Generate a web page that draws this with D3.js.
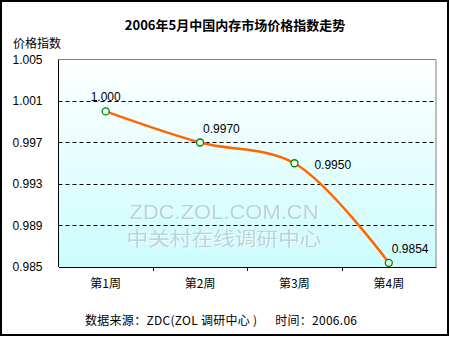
<!DOCTYPE html>
<html>
<head>
<meta charset="utf-8">
<script src="https://cdn.jsdelivr.net/npm/d3@7"></script>
<style>
  html, body { margin: 0; padding: 0; background: #fff; }
  svg { display: block; }
  text { font-family: "Liberation Sans", Arial, "Noto Sans CJK SC", sans-serif; }
</style>
</head>
<body>
<svg id="chart" width="450" height="337"></svg>
<script>
// Weekly memory market price index, May 2006
const weeks = ["第1周", "第2周", "第3周", "第4周"];
const indexValues = [1.000, 0.9970, 0.9950, 0.9854];
const valueLabels = ["1.000", "0.9970", "0.9950", "0.9854"];
const yTicks = [0.985, 0.989, 0.993, 0.997, 1.001, 1.005];
const yTickLabels = ["0.985", "0.989", "0.993", "0.997", "1.001", "1.005"];

const title = "2006年5月中国内存市场价格指数走势";
const yTitle = "价格指数";
const footer = "数据来源：ZDC(ZOL 调研中心 )      时间：2006.06";
const watermark1 = "ZDC.ZOL.COM.CN";
const watermark2 = "中关村在线调研中心";

const W = 450, H = 337;
const plot = { left: 58.5, right: 436, top: 59.5, bottom: 267 };

const svg = d3.select("#chart");

// outer frame
svg.append("rect")
  .attr("x", 1).attr("y", 1).attr("width", W - 3).attr("height", H - 3)
  .attr("fill", "#fff").attr("stroke", "#000").attr("stroke-width", 2);

const defs = svg.append("defs");
// plot background gradient
const grad = defs.append("linearGradient").attr("id", "bg")
  .attr("x1", 0).attr("y1", 0).attr("x2", 0).attr("y2", 1);
grad.append("stop").attr("offset", "0%").attr("stop-color", "#ffffff");
grad.append("stop").attr("offset", "100%").attr("stop-color", "#ccfcfd");

// emboss effect for the watermark
const emb = defs.append("filter").attr("id", "emboss")
  .attr("x", "-5%").attr("y", "-20%").attr("width", "110%").attr("height", "140%");
emb.append("feDropShadow").attr("dx", 1).attr("dy", 1)
  .attr("stdDeviation", 0).attr("flood-color", "#f6ffff").attr("flood-opacity", 1);

const x = d3.scaleBand().domain(weeks).range([plot.left, plot.right]);
const y = d3.scaleLinear().domain([0.985, 1.005]).range([plot.bottom, plot.top]);

svg.append("rect")
  .attr("x", plot.left).attr("y", plot.top)
  .attr("width", plot.right - plot.left).attr("height", plot.bottom - plot.top)
  .attr("fill", "url(#bg)");

// watermark
const wm = svg.append("g").attr("text-anchor", "middle")
  .attr("fill", "#b9d3d6").attr("filter", "url(#emboss)");
wm.append("text").attr("x", 224).attr("y", 219)
  .attr("font-size", 20).attr("textLength", 189).attr("lengthAdjust", "spacingAndGlyphs")
  .style("font-family", "'Liberation Sans', Arial, sans-serif")
  .text(watermark1);
wm.append("text").attr("x", 224).attr("y", 246)
  .attr("font-size", 19).attr("textLength", 195).attr("lengthAdjust", "spacingAndGlyphs")
  .style("font-family", "'Noto Sans CJK SC', sans-serif")
  .text(watermark2);

// dashed grid lines
svg.append("g").selectAll("line")
  .data(yTicks.filter(t => t > 0.985 && t < 1.005))
  .join("line")
  .attr("x1", plot.left).attr("x2", plot.right)
  .attr("y1", d => Math.round(y(d)) + 0.5).attr("y2", d => Math.round(y(d)) + 0.5)
  .attr("stroke", "#000").attr("stroke-dasharray", "4,3");

// plot frame
svg.append("line").attr("x1", plot.left).attr("x2", plot.right)
  .attr("y1", plot.top).attr("y2", plot.top).attr("stroke", "#808080");
svg.append("line").attr("x1", plot.right).attr("x2", plot.right)
  .attr("y1", plot.top).attr("y2", plot.bottom).attr("stroke", "#808080");

// y axis
const yAxis = d3.axisLeft(y).tickValues(yTicks)
  .tickFormat((d, i) => yTickLabels[i]).tickSize(4).tickPadding(12);
const gy = svg.append("g").attr("transform", `translate(${plot.left},0)`).call(yAxis);
gy.select(".domain").remove();
gy.selectAll("line").remove();
gy.selectAll("text").attr("font-size", 12).attr("fill", "#000")
  .style("font-family", "'Liberation Sans', Arial, sans-serif");
svg.append("line").attr("x1", plot.left).attr("x2", plot.left)
  .attr("y1", plot.top).attr("y2", plot.bottom).attr("stroke", "#000");

// x axis
const xAxis = d3.axisBottom(x).tickSize(0).tickPadding(12);
const gx = svg.append("g").attr("transform", `translate(0,${plot.bottom})`).call(xAxis);
gx.select(".domain").attr("stroke", "#000");
gx.selectAll("text").attr("font-size", 12).attr("fill", "#000")
  .style("font-family", "'Noto Sans CJK SC', sans-serif");
// category dividers
svg.append("g").selectAll("line")
  .data(weeks.slice(1))
  .join("line")
  .attr("x1", d => Math.round(x(d)) + 0.5).attr("x2", d => Math.round(x(d)) + 0.5)
  .attr("y1", plot.bottom).attr("y2", plot.bottom + 4).attr("stroke", "#000");

// data line
const pts = weeks.map((w, i) => [x(w) + x.bandwidth() / 2, y(indexValues[i])]);
const line = d3.line().curve(d3.curveCatmullRom.alpha(0.5));
svg.append("path").attr("d", line(pts))
  .attr("fill", "none").attr("stroke", "#ff6600").attr("stroke-width", 2.5);

// markers
svg.append("g").selectAll("circle").data(pts).join("circle")
  .attr("cx", d => d[0]).attr("cy", d => d[1]).attr("r", 3.5)
  .attr("fill", "#e8fff4").attr("stroke", "#008000").attr("stroke-width", 1.3);

// value labels
svg.append("g").selectAll("text").data(pts).join("text")
  .attr("x", (d, i) => i === 0 ? d[0] : i === 2 ? d[0] + 20 : d[0] + 3)
  .attr("y", (d, i) => i === 2 ? d[1] + 6 : d[1] - 10)
  .attr("text-anchor", (d, i) => i === 0 ? "middle" : "start")
  .attr("font-size", 12).attr("fill", "#000")
  .style("font-family", "'Liberation Sans', Arial, sans-serif")
  .text((d, i) => valueLabels[i]);

// titles
svg.append("text").attr("x", 235).attr("y", 30).attr("text-anchor", "middle")
  .attr("font-size", 13).attr("font-weight", "bold")
  .style("font-family", "'Noto Sans CJK SC', sans-serif").text(title);
svg.append("text").attr("x", 13).attr("y", 48)
  .attr("font-size", 12)
  .style("font-family", "'Noto Sans CJK SC', sans-serif").text(yTitle);
svg.append("text").attr("x", 85).attr("y", 325)
  .attr("font-size", 12).attr("xml:space", "preserve")
  .attr("textLength", 272).attr("lengthAdjust", "spacing")
  .style("white-space", "pre")
  .style("font-family", "'Noto Sans CJK SC', sans-serif").text(footer);
</script>
</body>
</html>
